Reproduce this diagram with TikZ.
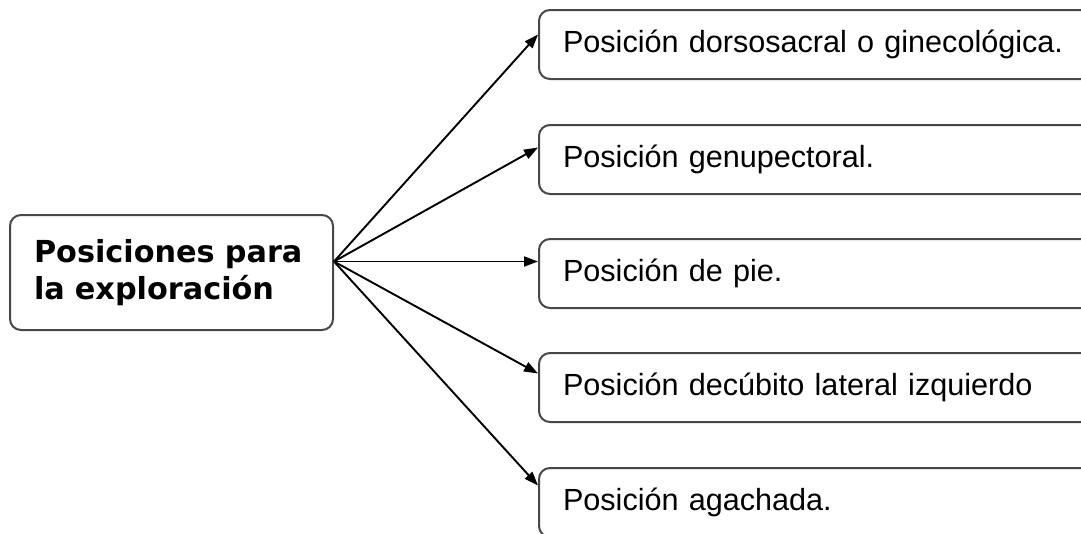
\documentclass[tikz,border=0pt]{standalone}
\usepackage{fontspec}
\setmainfont{Liberation Sans}
\newfontfamily\titulofont{DejaVu Sans}
\usetikzlibrary{calc,arrows.meta}

\begin{document}
\begin{tikzpicture}[x=1pt,y=-1pt,
    caja/.style={draw=black!72, line width=2pt, rounded corners=11pt,
      fill=white, align=left},
    flecha/.style={-{Triangle[length=14pt,width=10pt]}, line width=1.9pt}]
      \useasboundingbox (0,0) rectangle (1081,533);

      % Nodo central
      \node[caja, minimum width=323pt, minimum height=115pt, inner xsep=24pt,
        text width=275pt, font=\titulofont\bfseries\fontsize{30.3}{37}\selectfont]
        (pos) at (171.5,272.5) {Posiciones para\\la exploración};

      % Posiciones
      \foreach \i/\yc/\txt in {1/44.5/{Posición dorsosacral o ginecológica.},
                               2/159.5/{Posición genupectoral.},
                               3/273.5/{Posición de pie.},
                               4/387.5/{Posición decúbito lateral izquierdo},
                               5/502.5/{Posición agachada.}}
        \node[caja, anchor=west, minimum width=560pt, minimum height=69pt,
          inner xsep=24pt, text width=512pt,
          font=\fontsize{30.6}{36}\selectfont] (p\i) at (538,\yc) {\txt};

      % Flechas
      \coordinate (origen) at ([yshift=11pt]pos.east);
      \foreach \i/\d in {1/10,2/12,3/12,4/14,5/17}
        \draw[flecha] (origen) -- ([yshift=\d pt]p\i.west);
    \end{tikzpicture}
\end{document}
